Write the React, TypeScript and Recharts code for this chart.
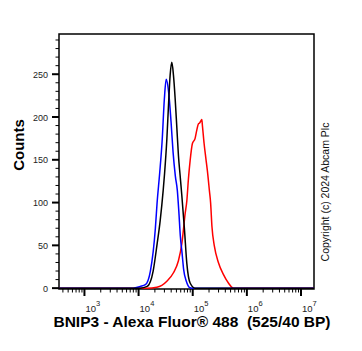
import React from 'react';
import { LineChart, Line, XAxis, YAxis, ReferenceArea } from 'recharts';

// x values are log10 of the fluorescence intensity, y values are event counts
const blueLogFl = [2.53, 3.75, 3.9, 4.03, 4.125, 4.218, 4.31, 4.341, 4.389, 4.434, 4.476, 4.51, 4.555, 4.6, 4.637, 4.679, 4.716, 4.743, 4.771, 4.803, 4.832, 4.882, 4.937, 4.993, 5.325, 7.24];
const blueCounts = [0, 0, 0, 2, 4, 20, 70, 99, 134, 171, 221, 244, 229, 194, 159, 131, 114, 90, 61, 41, 22, 8, 1, 0, 0, 0];

const blackLogFl = [2.53, 3.661, 4.03, 4.159, 4.269, 4.343, 4.399, 4.454, 4.48, 4.522, 4.552, 4.583, 4.614, 4.644, 4.675, 4.707, 4.736, 4.768, 4.799, 4.847, 4.891, 4.952, 5.044, 7.24];
const blackCounts = [0, 0, 0, 2, 20, 52, 79, 114, 134, 174, 213, 249, 264, 249, 222, 187, 155, 131, 108, 69, 29, 6, 0, 0];

const redLogFl = [2.53, 4.153, 4.338, 4.522, 4.644, 4.736, 4.799, 4.86, 4.891, 4.921, 4.952, 4.994, 5.044, 5.076, 5.105, 5.127, 5.155, 5.168, 5.179, 5.21, 5.242, 5.271, 5.308, 5.33, 5.355, 5.4, 5.474, 5.566, 5.659, 5.751, 5.875, 7.24];
const redCounts = [0, 0, 1, 8, 18, 32, 52, 87, 102, 128, 149, 169, 175, 185, 192, 193, 196, 197, 190, 169, 152, 137, 114, 100, 72, 49, 30, 16, 6, 0, 0, 0];

const X_MIN = 2.53;
const X_MAX = 7.24;
const Y_MIN = -1;
const Y_MAX = 297;

const xMajorTicks = [3, 4, 5, 6, 7];
const xMinorTicks: number[] = [];
for (let d = 2; d <= 7; d++) {
  for (let k = 2; k <= 9; k++) {
    const v = d + Math.log10(k);
    if (v >= X_MIN && v <= X_MAX) xMinorTicks.push(v);
  }
}
const xTicks = [...xMajorTicks, ...xMinorTicks].sort((a, b) => a - b);
const yTicks = Array.from({ length: 30 }, (_, i) => i * 10);

const toPoints = (xs: number[], ys: number[]) => xs.map((x, i) => ({ x, y: ys[i] }));
const blueData = toPoints(blueLogFl, blueCounts);
const blackData = toPoints(blackLogFl, blackCounts);
const redData = toPoints(redLogFl, redCounts);

const FONT = '"Liberation Sans", Arial, sans-serif';

const XTick = (props: any) => {
  const { x, y, payload } = props;
  const v = payload.value;
  const major = Math.abs(v - Math.round(v)) < 1e-6;
  return (
    <g>
      <line x1={x} y1={y} x2={x} y2={y + (major ? 7 : 3.5)} stroke="#000" strokeWidth={major ? 2 : 1} />
      {major && (
        <text x={x + 1} y={y + 22.5} fontSize={9.5} fontFamily={FONT} fill="#222">
          10
          <tspan dy={-5.5} fontSize={7.5}>{Math.round(v)}</tspan>
        </text>
      )}
    </g>
  );
};

const YTick = (props: any) => {
  const { x, y, payload } = props;
  const v = payload.value;
  const major = v % 50 === 0;
  return (
    <g>
      <line x1={x - (major ? 7 : 3.5)} y1={y} x2={x} y2={y} stroke="#000" strokeWidth={major ? 2 : 1} />
      {major && (
        <text x={x - 11} y={y + 3.5} textAnchor="end" fontSize={9} fontFamily={FONT} fill="#222">
          {v}
        </text>
      )}
    </g>
  );
};

export default function App() {
  return (
    <div style={{ position: 'absolute', left: 0, top: 0, width: 362, height: 351, background: '#fff' }}>
      <LineChart width={362} height={351} margin={{ top: 34, right: 48, left: 0, bottom: 0 }}>
        <XAxis
          dataKey="x"
          type="number"
          domain={[X_MIN, X_MAX]}
          ticks={xTicks}
          interval={0}
          allowDataOverflow
          axisLine={false}
          tickLine={false}
          tickSize={0}
          tickMargin={0}
          height={62}
          tick={(p: any) => <XTick {...p} />}
        />
        <YAxis
          type="number"
          domain={[Y_MIN, Y_MAX]}
          ticks={yTicks}
          interval={0}
          allowDataOverflow
          axisLine={false}
          tickLine={false}
          tickSize={0}
          tickMargin={0}
          width={59}
          tick={(p: any) => <YTick {...p} />}
        />
        <ReferenceArea x1={X_MIN} x2={X_MAX} y1={Y_MIN} y2={Y_MAX} fill="none" fillOpacity={0} stroke="#000" strokeWidth={1.5} />
        <Line data={redData} dataKey="y" type="monotone" stroke="#ff0000" strokeWidth={1.5} dot={false} isAnimationActive={false} />
        <Line data={blueData} dataKey="y" type="monotone" stroke="#0000ff" strokeWidth={1.5} dot={false} isAnimationActive={false} />
        <Line data={blackData} dataKey="y" type="monotone" stroke="#000000" strokeWidth={1.5} dot={false} isAnimationActive={false} />
      </LineChart>
      <svg width={362} height={351} style={{ position: 'absolute', left: 0, top: 0, pointerEvents: 'none' }}>
        <text
          transform="translate(23.5,145) rotate(-90)"
          textAnchor="middle"
          fontSize={15}
          fontWeight="bold"
          fontFamily={FONT}
          fill="#000"
        >
          Counts
        </text>
        <text
          x={192}
          y={327}
          textAnchor="middle"
          fontSize={15.5}
          fontWeight="bold"
          fontFamily={FONT}
          fill="#000"
          style={{ whiteSpace: 'pre' }}
        >
          {'BNIP3 - Alexa Fluor® 488  (525/40 BP)'}
        </text>
        <text
          transform="translate(329,192) rotate(-90)"
          textAnchor="middle"
          fontSize={10.5}
          fontFamily={FONT}
          fill="#111"
        >
          Copyright (c) 2024 Abcam Plc
        </text>
      </svg>
    </div>
  );
}
